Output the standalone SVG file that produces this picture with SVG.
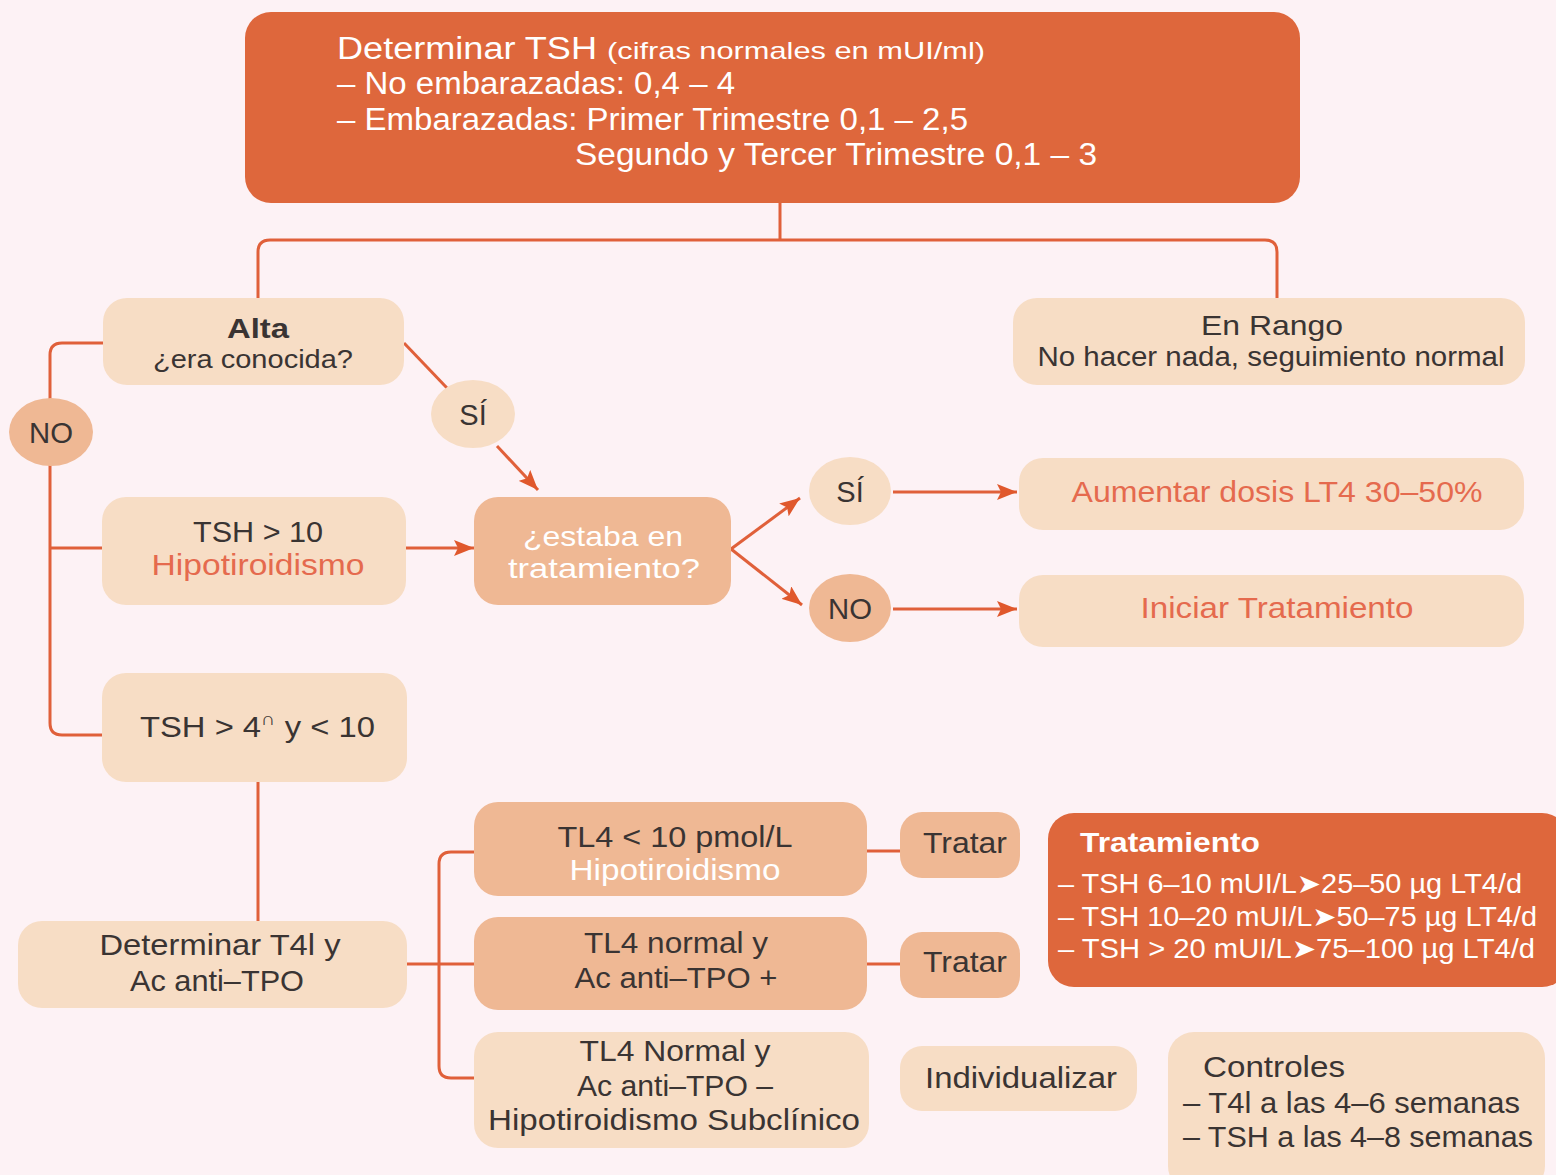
<svg xmlns="http://www.w3.org/2000/svg" width="1556" height="1175" viewBox="0 0 1556 1175">
  <defs>
    <marker id="arrow" markerUnits="userSpaceOnUse" markerWidth="20" markerHeight="16" viewBox="0 0 20 16" refX="20" refY="8" orient="auto">
      <path d="M0,0 L20,8 L0,16 L4,8 Z" fill="#e0582c"/>
    </marker>
    <style>
      .bg { fill: #fdf2f5; }
      .hot { fill: #de673c; }
      .lite { fill: #f7ddc5; }
      .mid { fill: #efb894; }
      .wire { fill: none; stroke: #e0603a; stroke-width: 3; }
      .t { font-family: "Liberation Sans", Arial, "DejaVu Sans", sans-serif; fill: #3a3433; text-anchor: middle; }
      .tl { text-anchor: start; }
      .w { fill: #ffffff; }
      .r { fill: #e56a4e; }
      .b { font-weight: bold; }
      .n { font-family: "Liberation Sans Narrow", "Liberation Sans", Arial, sans-serif; fill: #ffffff; }
    </style>
  </defs>

  <rect class="bg" x="0" y="0" width="1556" height="1175"/>

  <!-- connectors -->
  <g id="connectors">
    <path class="wire" d="M780,203 V240"/>
    <path class="wire" d="M258,298 V252 Q258,240 270,240 H1265 Q1277,240 1277,252 V298"/>
    <path class="wire" d="M103,343 H62 Q50,343 50,355 V723 Q50,735 62,735 H102"/>
    <path class="wire" d="M50,548 H102"/>
    <path class="wire" d="M404,343 L447,388"/>
    <path class="wire" d="M497,446 L538,490" marker-end="url(#arrow)"/>
    <path class="wire" d="M406,548 H474" marker-end="url(#arrow)"/>
    <path class="wire" d="M731,549 L800,498" marker-end="url(#arrow)"/>
    <path class="wire" d="M731,549 L802,605" marker-end="url(#arrow)"/>
    <path class="wire" d="M893,492 H1017" marker-end="url(#arrow)"/>
    <path class="wire" d="M893,609 H1017" marker-end="url(#arrow)"/>
    <path class="wire" d="M258,782 V921"/>
    <path class="wire" d="M407,964 H474"/>
    <path class="wire" d="M474,852 H451 Q439,852 439,864 V1066 Q439,1078 451,1078 H474"/>
    <path class="wire" d="M867,851 H900"/>
    <path class="wire" d="M867,964 H900"/>
  </g>

  <!-- header: TSH reference values -->
  <g id="n-tsh">
    <rect class="hot" x="245" y="12" width="1055" height="191" rx="26"/>
    <text class="n" x="337" y="59" font-size="31"><tspan textLength="260" lengthAdjust="spacingAndGlyphs">Determinar TSH</tspan><tspan x="607" font-size="24" textLength="378" lengthAdjust="spacingAndGlyphs">(cifras normales en mUI/ml)</tspan></text>
    <text class="n" x="337" y="94" font-size="31" textLength="398" lengthAdjust="spacingAndGlyphs">– No embarazadas: 0,4 – 4</text>
    <text class="n" x="337" y="130" font-size="31" textLength="631" lengthAdjust="spacingAndGlyphs">– Embarazadas: Primer Trimestre 0,1 – 2,5</text>
    <text class="n" x="575" y="165" font-size="31" textLength="522" lengthAdjust="spacingAndGlyphs">Segundo y Tercer Trimestre 0,1 – 3</text>
  </g>

  <g id="n-alta">
    <rect class="lite" x="103" y="298" width="301" height="87" rx="24"/>
    <text class="t b" x="258" y="338" font-size="28" textLength="62" lengthAdjust="spacingAndGlyphs">Alta</text>
    <text class="t" x="253" y="368" font-size="25" textLength="200" lengthAdjust="spacingAndGlyphs">¿era conocida?</text>
  </g>

  <g id="n-rango">
    <rect class="lite" x="1013" y="298" width="512" height="87" rx="24"/>
    <text class="t" x="1272" y="335" font-size="28" textLength="142" lengthAdjust="spacingAndGlyphs">En Rango</text>
    <text class="t" x="1271" y="366" font-size="27" textLength="467" lengthAdjust="spacingAndGlyphs">No hacer nada, seguimiento normal</text>
  </g>

  <g id="n-no1">
    <ellipse class="mid" cx="51" cy="432" rx="42" ry="34"/>
    <text class="t" x="51" y="443" font-size="29" textLength="44" lengthAdjust="spacingAndGlyphs">NO</text>
  </g>

  <g id="n-si1">
    <ellipse class="lite" cx="473" cy="414" rx="42" ry="34"/>
    <text class="t" x="473" y="425" font-size="29">SÍ</text>
  </g>

  <g id="n-tsh10">
    <rect class="lite" x="102" y="497" width="304" height="108" rx="24"/>
    <text class="t" x="258" y="542" font-size="29" textLength="130" lengthAdjust="spacingAndGlyphs">TSH &gt; 10</text>
    <text class="t r" x="258" y="575" font-size="29" textLength="213" lengthAdjust="spacingAndGlyphs">Hipotiroidismo</text>
  </g>

  <g id="n-estaba">
    <rect class="mid" x="474" y="497" width="257" height="108" rx="24"/>
    <text class="t w" x="603" y="546" font-size="28" textLength="160" lengthAdjust="spacingAndGlyphs">¿estaba en</text>
    <text class="t w" x="604" y="578" font-size="28" textLength="192" lengthAdjust="spacingAndGlyphs">tratamiento?</text>
  </g>

  <g id="n-si2">
    <ellipse class="lite" cx="850" cy="491" rx="41" ry="34"/>
    <text class="t" x="850" y="502" font-size="29">SÍ</text>
  </g>

  <g id="n-no2">
    <ellipse class="mid" cx="850" cy="608" rx="41" ry="34"/>
    <text class="t" x="850" y="619" font-size="29" textLength="44" lengthAdjust="spacingAndGlyphs">NO</text>
  </g>

  <g id="n-aumentar">
    <rect class="lite" x="1019" y="458" width="505" height="72" rx="24"/>
    <text class="t r" x="1277" y="502" font-size="29" textLength="411" lengthAdjust="spacingAndGlyphs">Aumentar dosis LT4 30–50%</text>
  </g>

  <g id="n-iniciar">
    <rect class="lite" x="1019" y="575" width="505" height="72" rx="24"/>
    <text class="t r" x="1277" y="618" font-size="29" textLength="273" lengthAdjust="spacingAndGlyphs">Iniciar Tratamiento</text>
  </g>

  <g id="n-tsh4">
    <rect class="lite" x="102" y="673" width="305" height="109" rx="24"/>
    <text class="t tl" x="140" y="737" font-size="29" textLength="235" lengthAdjust="spacingAndGlyphs">TSH &gt; 4<tspan dy="-12" font-size="18">∩</tspan><tspan dy="12"> y &lt; 10</tspan></text>
  </g>

  <g id="n-t4l">
    <rect class="lite" x="18" y="921" width="389" height="87" rx="24"/>
    <text class="t" x="220" y="955" font-size="29" textLength="241" lengthAdjust="spacingAndGlyphs">Determinar T4l y</text>
    <text class="t" x="217" y="991" font-size="29" textLength="174" lengthAdjust="spacingAndGlyphs">Ac anti–TPO</text>
  </g>

  <g id="n-tl4-bajo">
    <rect class="mid" x="474" y="802" width="393" height="94" rx="24"/>
    <text class="t" x="675" y="847" font-size="29" textLength="235" lengthAdjust="spacingAndGlyphs">TL4 &lt; 10 pmol/L</text>
    <text class="t w" x="675" y="880" font-size="29" textLength="211" lengthAdjust="spacingAndGlyphs">Hipotiroidismo</text>
  </g>

  <g id="n-tl4-pos">
    <rect class="mid" x="474" y="917" width="393" height="93" rx="24"/>
    <text class="t" x="676" y="953" font-size="29" textLength="184" lengthAdjust="spacingAndGlyphs">TL4 normal y</text>
    <text class="t" x="676" y="988" font-size="29" textLength="203" lengthAdjust="spacingAndGlyphs">Ac anti–TPO +</text>
  </g>

  <g id="n-tl4-neg">
    <rect class="lite" x="474" y="1032" width="395" height="116" rx="24"/>
    <text class="t" x="675" y="1061" font-size="29" textLength="191" lengthAdjust="spacingAndGlyphs">TL4 Normal y</text>
    <text class="t" x="675" y="1096" font-size="29" textLength="196" lengthAdjust="spacingAndGlyphs">Ac anti–TPO –</text>
    <text class="t" x="674" y="1130" font-size="29" textLength="372" lengthAdjust="spacingAndGlyphs">Hipotiroidismo Subclínico</text>
  </g>

  <g id="n-tratar1">
    <rect class="mid" x="900" y="812" width="120" height="66" rx="22"/>
    <text class="t" x="965" y="853" font-size="29" textLength="84" lengthAdjust="spacingAndGlyphs">Tratar</text>
  </g>

  <g id="n-tratar2">
    <rect class="mid" x="900" y="932" width="120" height="66" rx="22"/>
    <text class="t" x="965" y="972" font-size="29" textLength="84" lengthAdjust="spacingAndGlyphs">Tratar</text>
  </g>

  <g id="n-individualizar">
    <rect class="lite" x="900" y="1046" width="237" height="65" rx="22"/>
    <text class="t" x="1021" y="1088" font-size="29" textLength="192" lengthAdjust="spacingAndGlyphs">Individualizar</text>
  </g>

  <g id="n-tratamiento">
    <rect class="hot" x="1048" y="813" width="520" height="174" rx="26"/>
    <text class="t tl w b" x="1080" y="852" font-size="28" textLength="180" lengthAdjust="spacingAndGlyphs">Tratamiento</text>
    <text class="t tl w" x="1058" y="893" font-size="27" textLength="464" lengthAdjust="spacingAndGlyphs">– TSH 6–10 mUI/L➤25–50 µg LT4/d</text>
    <text class="t tl w" x="1058" y="926" font-size="27" textLength="479" lengthAdjust="spacingAndGlyphs">– TSH 10–20 mUI/L➤50–75 µg LT4/d</text>
    <text class="t tl w" x="1058" y="958" font-size="27" textLength="477" lengthAdjust="spacingAndGlyphs">– TSH &gt; 20 mUI/L➤75–100 µg LT4/d</text>
  </g>

  <g id="n-controles">
    <rect class="lite" x="1168" y="1032" width="377" height="160" rx="26"/>
    <text class="t tl" x="1203" y="1077" font-size="29" textLength="142" lengthAdjust="spacingAndGlyphs">Controles</text>
    <text class="t tl" x="1183" y="1113" font-size="29" textLength="337" lengthAdjust="spacingAndGlyphs">– T4l a las 4–6 semanas</text>
    <text class="t tl" x="1183" y="1147" font-size="29" textLength="350" lengthAdjust="spacingAndGlyphs">– TSH a las 4–8 semanas</text>
  </g>
</svg>
